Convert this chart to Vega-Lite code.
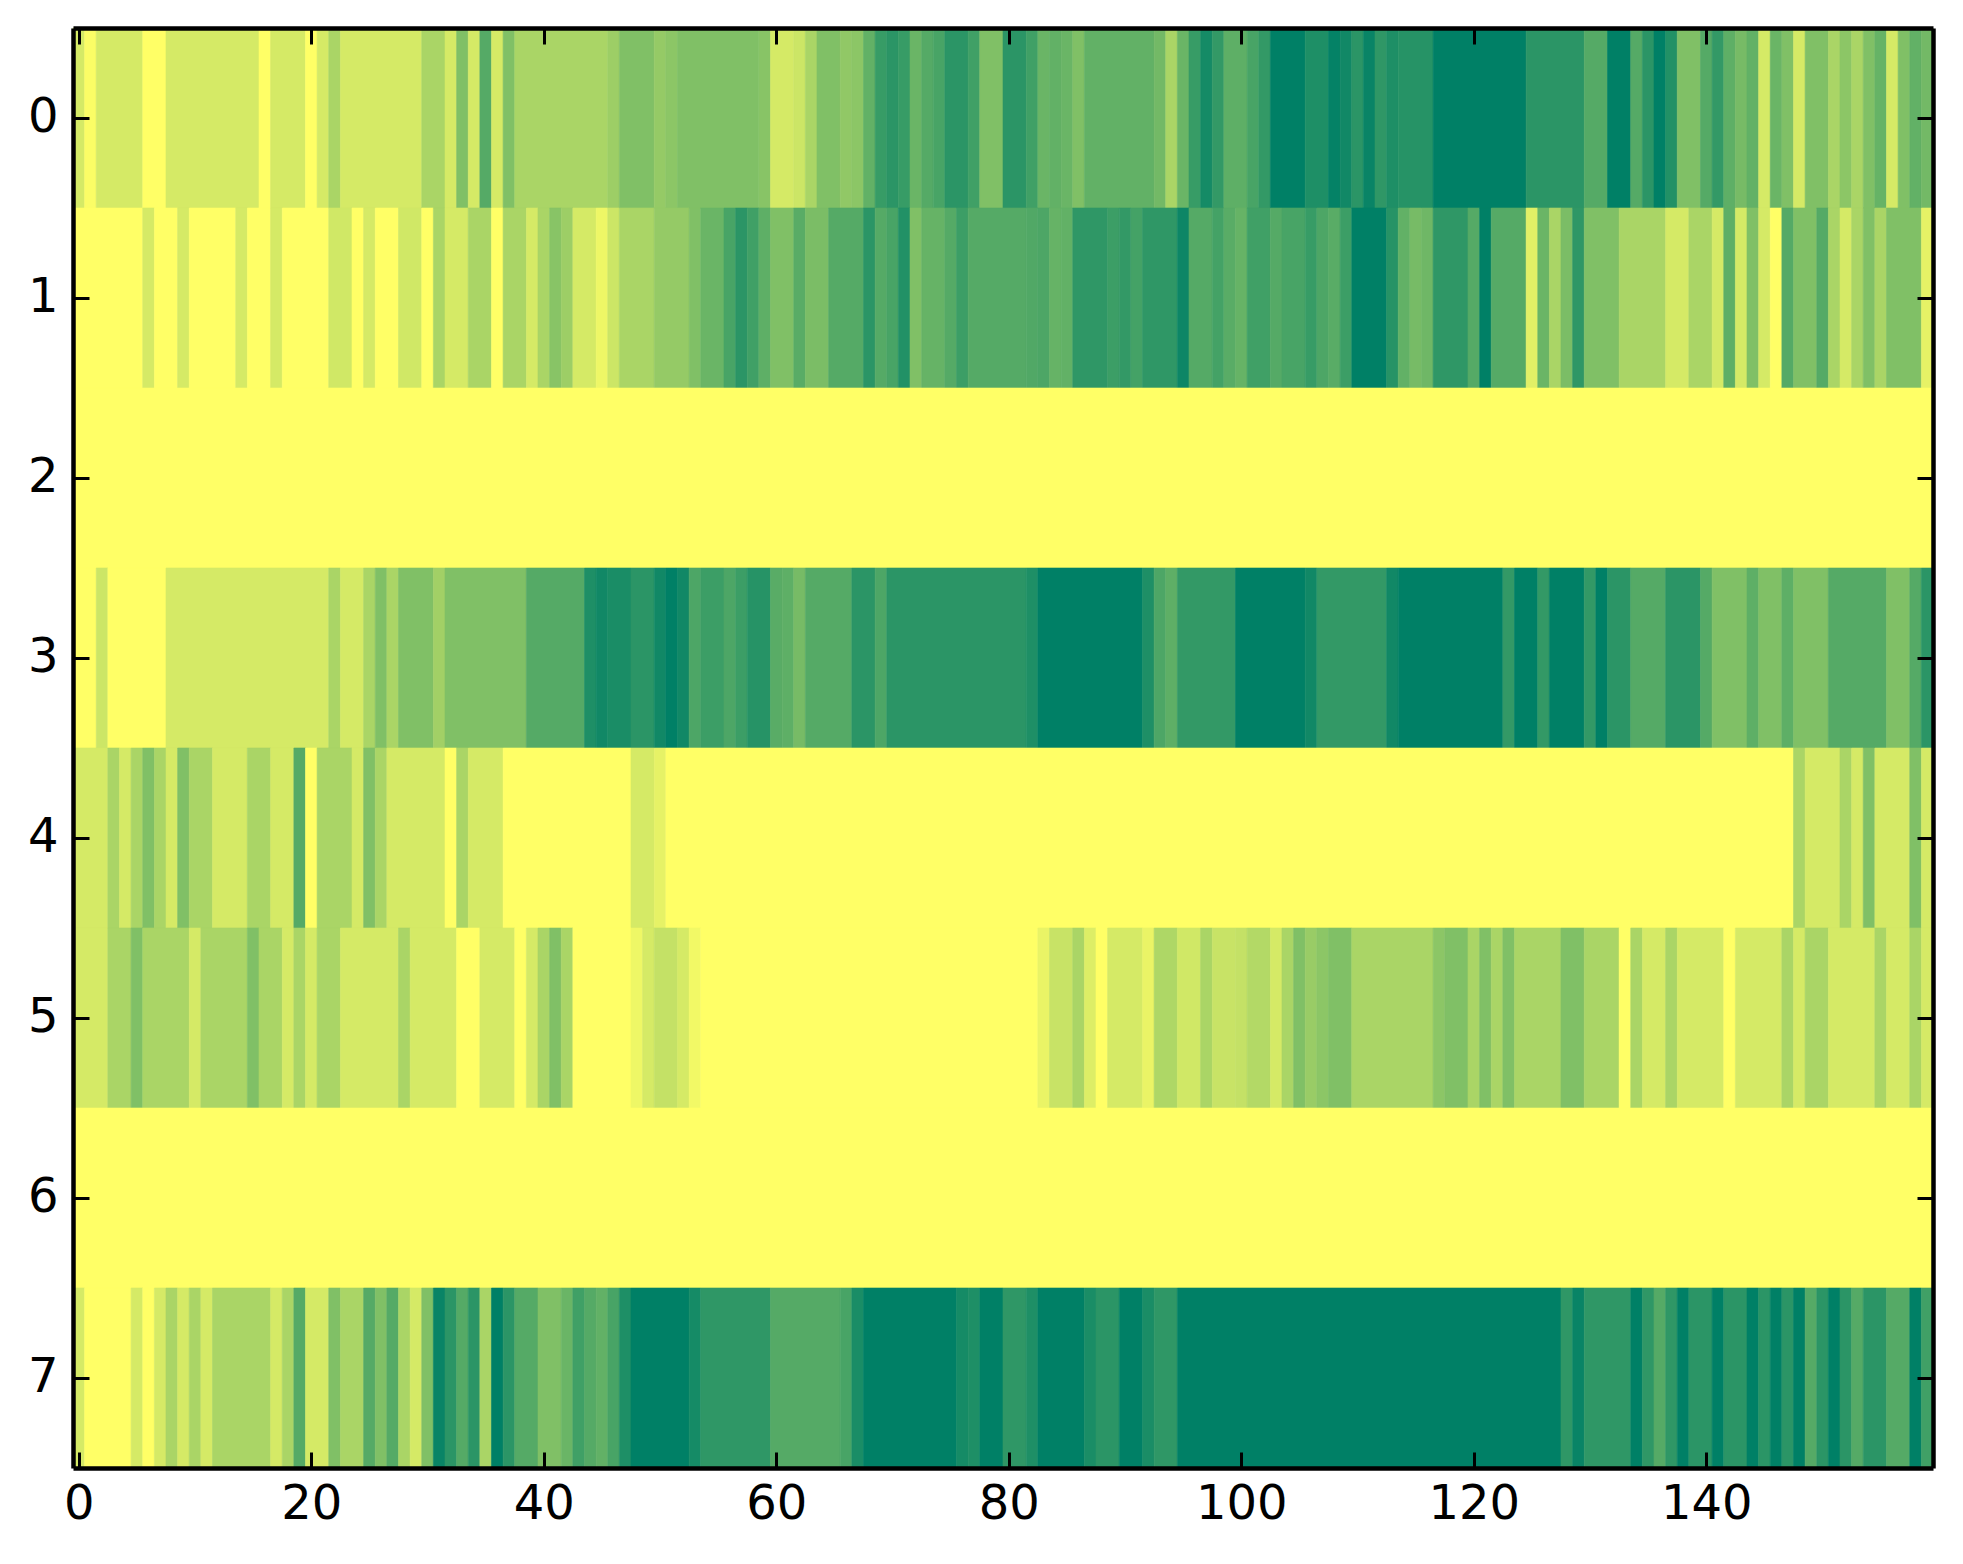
{
  "$schema": "https://vega.github.io/schema/vega-lite/v6.json",
  "autosize": {"type": "none"},
  "padding": {"left": 73, "top": 28, "right": 30, "bottom": 96},
  "width": 1860,
  "height": 1440,
  "background": "white",
  "data": {"values": [
    {"row":0,"from":-0.5,"to":0.5,"value":1},{"row":0,"from":0.5,"to":1.5,"value":0.1},{"row":0,"from":1.5,"to":5.5,"value":1},{"row":0,"from":5.5,"to":7.5,"value":0},{"row":0,"from":7.5,"to":15.5,"value":1},{"row":0,"from":15.5,"to":16.5,"value":0},{"row":0,"from":16.5,"to":19.5,"value":1},{"row":0,"from":19.5,"to":20.5,"value":0},{"row":0,"from":20.5,"to":21.5,"value":1},{"row":0,"from":21.5,"to":22.5,"value":2},{"row":0,"from":22.5,"to":29.5,"value":1},{"row":0,"from":29.5,"to":31.5,"value":2},{"row":0,"from":31.5,"to":32.5,"value":1},{"row":0,"from":32.5,"to":33.5,"value":3},{"row":0,"from":33.5,"to":34.5,"value":1},{"row":0,"from":34.5,"to":35.5,"value":4},{"row":0,"from":35.5,"to":36.5,"value":1},{"row":0,"from":36.5,"to":37.5,"value":3},{"row":0,"from":37.5,"to":45.5,"value":2},{"row":0,"from":45.5,"to":46.5,"value":2.3},{"row":0,"from":46.5,"to":49.5,"value":3},{"row":0,"from":49.5,"to":50.5,"value":2.5},{"row":0,"from":50.5,"to":51.5,"value":2.7},{"row":0,"from":51.5,"to":58.5,"value":3},{"row":0,"from":58.5,"to":59.5,"value":2.8},{"row":0,"from":59.5,"to":61.5,"value":1},{"row":0,"from":61.5,"to":62.5,"value":1.2},{"row":0,"from":62.5,"to":63.5,"value":2},{"row":0,"from":63.5,"to":65.5,"value":3},{"row":0,"from":65.5,"to":66.5,"value":2.6},{"row":0,"from":66.5,"to":67.5,"value":2.7},{"row":0,"from":67.5,"to":68.5,"value":3.7},{"row":0,"from":68.5,"to":69.5,"value":4.7},{"row":0,"from":69.5,"to":70.5,"value":5},{"row":0,"from":70.5,"to":71.5,"value":4.7},{"row":0,"from":71.5,"to":72.5,"value":3.5},{"row":0,"from":72.5,"to":73.5,"value":4},{"row":0,"from":73.5,"to":74.5,"value":4.3},{"row":0,"from":74.5,"to":76.5,"value":5},{"row":0,"from":76.5,"to":77.5,"value":4.5},{"row":0,"from":77.5,"to":79.5,"value":3},{"row":0,"from":79.5,"to":81.5,"value":5},{"row":0,"from":81.5,"to":82.5,"value":4.5},{"row":0,"from":82.5,"to":83.5,"value":3.5},{"row":0,"from":83.5,"to":84.5,"value":3.7},{"row":0,"from":84.5,"to":85.5,"value":3.5},{"row":0,"from":85.5,"to":86.5,"value":3},{"row":0,"from":86.5,"to":92.5,"value":3.7},{"row":0,"from":92.5,"to":93.5,"value":3.3},{"row":0,"from":93.5,"to":94.5,"value":2},{"row":0,"from":94.5,"to":95.5,"value":3.5},{"row":0,"from":95.5,"to":96.5,"value":4.7},{"row":0,"from":96.5,"to":97.5,"value":5.5},{"row":0,"from":97.5,"to":98.5,"value":4.8},{"row":0,"from":98.5,"to":100.5,"value":3.8},{"row":0,"from":100.5,"to":101.5,"value":4.3},{"row":0,"from":101.5,"to":102.5,"value":4.8},{"row":0,"from":102.5,"to":105.5,"value":6},{"row":0,"from":105.5,"to":107.5,"value":5.3},{"row":0,"from":107.5,"to":108.5,"value":5.9},{"row":0,"from":108.5,"to":109.5,"value":5.6},{"row":0,"from":109.5,"to":110.5,"value":5},{"row":0,"from":110.5,"to":111.5,"value":5.8},{"row":0,"from":111.5,"to":112.5,"value":4.9},{"row":0,"from":112.5,"to":113.5,"value":5.3},{"row":0,"from":113.5,"to":116.5,"value":5.1},{"row":0,"from":116.5,"to":124.5,"value":6},{"row":0,"from":124.5,"to":129.5,"value":5},{"row":0,"from":129.5,"to":131.5,"value":4},{"row":0,"from":131.5,"to":133.5,"value":6},{"row":0,"from":133.5,"to":134.5,"value":4},{"row":0,"from":134.5,"to":135.5,"value":5},{"row":0,"from":135.5,"to":136.5,"value":6},{"row":0,"from":136.5,"to":137.5,"value":5.2},{"row":0,"from":137.5,"to":139.5,"value":3},{"row":0,"from":139.5,"to":140.5,"value":4},{"row":0,"from":140.5,"to":141.5,"value":4.8},{"row":0,"from":141.5,"to":142.5,"value":3.8},{"row":0,"from":142.5,"to":143.5,"value":3.2},{"row":0,"from":143.5,"to":144.5,"value":3.7},{"row":0,"from":144.5,"to":145.5,"value":1},{"row":0,"from":145.5,"to":146.5,"value":3.5},{"row":0,"from":146.5,"to":147.5,"value":3},{"row":0,"from":147.5,"to":148.5,"value":1},{"row":0,"from":148.5,"to":150.5,"value":3},{"row":0,"from":150.5,"to":151.5,"value":2},{"row":0,"from":151.5,"to":152.5,"value":2.7},{"row":0,"from":152.5,"to":153.5,"value":2},{"row":0,"from":153.5,"to":154.5,"value":3},{"row":0,"from":154.5,"to":155.5,"value":3.6},{"row":0,"from":155.5,"to":156.5,"value":1},{"row":0,"from":156.5,"to":157.5,"value":3},{"row":0,"from":157.5,"to":158.5,"value":3.7},{"row":0,"from":158.5,"to":159.5,"value":3.3},
    {"row":1,"from":-0.5,"to":5.5,"value":0},{"row":1,"from":5.5,"to":6.5,"value":1},{"row":1,"from":6.5,"to":8.5,"value":0},{"row":1,"from":8.5,"to":9.5,"value":1},{"row":1,"from":9.5,"to":13.5,"value":0},{"row":1,"from":13.5,"to":14.5,"value":1},{"row":1,"from":14.5,"to":16.5,"value":0},{"row":1,"from":16.5,"to":17.5,"value":1},{"row":1,"from":17.5,"to":21.5,"value":0},{"row":1,"from":21.5,"to":23.5,"value":1.1},{"row":1,"from":23.5,"to":24.5,"value":0},{"row":1,"from":24.5,"to":25.5,"value":1},{"row":1,"from":25.5,"to":27.5,"value":0},{"row":1,"from":27.5,"to":29.5,"value":1.1},{"row":1,"from":29.5,"to":30.5,"value":0},{"row":1,"from":30.5,"to":31.5,"value":2},{"row":1,"from":31.5,"to":33.5,"value":1},{"row":1,"from":33.5,"to":35.5,"value":2},{"row":1,"from":35.5,"to":36.5,"value":0},{"row":1,"from":36.5,"to":38.5,"value":2},{"row":1,"from":38.5,"to":39.5,"value":1},{"row":1,"from":39.5,"to":40.5,"value":2},{"row":1,"from":40.5,"to":41.5,"value":2.8},{"row":1,"from":41.5,"to":42.5,"value":2.3},{"row":1,"from":42.5,"to":44.5,"value":1},{"row":1,"from":44.5,"to":45.5,"value":0.4},{"row":1,"from":45.5,"to":46.5,"value":1.2},{"row":1,"from":46.5,"to":49.5,"value":2},{"row":1,"from":49.5,"to":52.5,"value":2.5},{"row":1,"from":52.5,"to":53.5,"value":3},{"row":1,"from":53.5,"to":55.5,"value":3.5},{"row":1,"from":55.5,"to":56.5,"value":4.3},{"row":1,"from":56.5,"to":57.5,"value":5},{"row":1,"from":57.5,"to":58.5,"value":4.5},{"row":1,"from":58.5,"to":59.5,"value":3.8},{"row":1,"from":59.5,"to":61.5,"value":3},{"row":1,"from":61.5,"to":62.5,"value":3.9},{"row":1,"from":62.5,"to":64.5,"value":3.1},{"row":1,"from":64.5,"to":67.5,"value":4},{"row":1,"from":67.5,"to":68.5,"value":5},{"row":1,"from":68.5,"to":69.5,"value":4},{"row":1,"from":69.5,"to":70.5,"value":4.3},{"row":1,"from":70.5,"to":71.5,"value":5.2},{"row":1,"from":71.5,"to":72.5,"value":3},{"row":1,"from":72.5,"to":74.5,"value":3.6},{"row":1,"from":74.5,"to":75.5,"value":4},{"row":1,"from":75.5,"to":76.5,"value":4.6},{"row":1,"from":76.5,"to":81.5,"value":4},{"row":1,"from":81.5,"to":82.5,"value":4.1},{"row":1,"from":82.5,"to":83.5,"value":4.2},{"row":1,"from":83.5,"to":84.5,"value":3.6},{"row":1,"from":84.5,"to":85.5,"value":3.7},{"row":1,"from":85.5,"to":88.5,"value":4.9},{"row":1,"from":88.5,"to":89.5,"value":4.6},{"row":1,"from":89.5,"to":90.5,"value":4.8},{"row":1,"from":90.5,"to":91.5,"value":4.4},{"row":1,"from":91.5,"to":94.5,"value":4.9},{"row":1,"from":94.5,"to":95.5,"value":5.7},{"row":1,"from":95.5,"to":97.5,"value":4},{"row":1,"from":97.5,"to":98.5,"value":4.4},{"row":1,"from":98.5,"to":99.5,"value":3.9},{"row":1,"from":99.5,"to":100.5,"value":3.6},{"row":1,"from":100.5,"to":102.5,"value":4.5},{"row":1,"from":102.5,"to":103.5,"value":4},{"row":1,"from":103.5,"to":105.5,"value":4.3},{"row":1,"from":105.5,"to":106.5,"value":4.7},{"row":1,"from":106.5,"to":107.5,"value":4.2},{"row":1,"from":107.5,"to":108.5,"value":3.9},{"row":1,"from":108.5,"to":109.5,"value":4.6},{"row":1,"from":109.5,"to":112.5,"value":6},{"row":1,"from":112.5,"to":113.5,"value":5.1},{"row":1,"from":113.5,"to":114.5,"value":3.7},{"row":1,"from":114.5,"to":115.5,"value":3.2},{"row":1,"from":115.5,"to":116.5,"value":3.4},{"row":1,"from":116.5,"to":119.5,"value":4.9},{"row":1,"from":119.5,"to":120.5,"value":4},{"row":1,"from":120.5,"to":121.5,"value":6},{"row":1,"from":121.5,"to":124.5,"value":4},{"row":1,"from":124.5,"to":125.5,"value":0.7},{"row":1,"from":125.5,"to":126.5,"value":3.5},{"row":1,"from":126.5,"to":127.5,"value":2},{"row":1,"from":127.5,"to":128.5,"value":3.1},{"row":1,"from":128.5,"to":129.5,"value":4.9},{"row":1,"from":129.5,"to":132.5,"value":3},{"row":1,"from":132.5,"to":136.5,"value":2},{"row":1,"from":136.5,"to":138.5,"value":1},{"row":1,"from":138.5,"to":140.5,"value":2},{"row":1,"from":140.5,"to":141.5,"value":1},{"row":1,"from":141.5,"to":142.5,"value":3.8},{"row":1,"from":142.5,"to":143.5,"value":1},{"row":1,"from":143.5,"to":144.5,"value":3},{"row":1,"from":144.5,"to":145.5,"value":1},{"row":1,"from":145.5,"to":146.5,"value":0},{"row":1,"from":146.5,"to":147.5,"value":4},{"row":1,"from":147.5,"to":149.5,"value":3},{"row":1,"from":149.5,"to":150.5,"value":4},{"row":1,"from":150.5,"to":151.5,"value":2},{"row":1,"from":151.5,"to":152.5,"value":1},{"row":1,"from":152.5,"to":153.5,"value":2},{"row":1,"from":153.5,"to":154.5,"value":3},{"row":1,"from":154.5,"to":155.5,"value":2},{"row":1,"from":155.5,"to":158.5,"value":3},{"row":1,"from":158.5,"to":159.5,"value":0.6},
    {"row":2,"from":-0.5,"to":159.5,"value":0},
    {"row":3,"from":-0.5,"to":1.5,"value":0},{"row":3,"from":1.5,"to":2.5,"value":1.2},{"row":3,"from":2.5,"to":7.5,"value":0},{"row":3,"from":7.5,"to":21.5,"value":1},{"row":3,"from":21.5,"to":22.5,"value":2},{"row":3,"from":22.5,"to":24.5,"value":1},{"row":3,"from":24.5,"to":25.5,"value":2},{"row":3,"from":25.5,"to":26.5,"value":3},{"row":3,"from":26.5,"to":27.5,"value":2},{"row":3,"from":27.5,"to":30.5,"value":3},{"row":3,"from":30.5,"to":31.5,"value":2.2},{"row":3,"from":31.5,"to":38.5,"value":3},{"row":3,"from":38.5,"to":43.5,"value":4},{"row":3,"from":43.5,"to":44.5,"value":5.3},{"row":3,"from":44.5,"to":45.5,"value":5.6},{"row":3,"from":45.5,"to":47.5,"value":5.4},{"row":3,"from":47.5,"to":49.5,"value":5},{"row":3,"from":49.5,"to":50.5,"value":5.6},{"row":3,"from":50.5,"to":51.5,"value":6},{"row":3,"from":51.5,"to":52.5,"value":5.6},{"row":3,"from":52.5,"to":53.5,"value":4.2},{"row":3,"from":53.5,"to":55.5,"value":4.6},{"row":3,"from":55.5,"to":56.5,"value":4.2},{"row":3,"from":56.5,"to":57.5,"value":4.6},{"row":3,"from":57.5,"to":59.5,"value":5.1},{"row":3,"from":59.5,"to":60.5,"value":3.9},{"row":3,"from":60.5,"to":61.5,"value":3.8},{"row":3,"from":61.5,"to":62.5,"value":3.2},{"row":3,"from":62.5,"to":66.5,"value":4},{"row":3,"from":66.5,"to":68.5,"value":5},{"row":3,"from":68.5,"to":69.5,"value":4.2},{"row":3,"from":69.5,"to":81.5,"value":5},{"row":3,"from":81.5,"to":82.5,"value":5.3},{"row":3,"from":82.5,"to":91.5,"value":6},{"row":3,"from":91.5,"to":92.5,"value":5.3},{"row":3,"from":92.5,"to":93.5,"value":4.2},{"row":3,"from":93.5,"to":94.5,"value":3.8},{"row":3,"from":94.5,"to":99.5,"value":4.8},{"row":3,"from":99.5,"to":105.5,"value":6},{"row":3,"from":105.5,"to":106.5,"value":5.6},{"row":3,"from":106.5,"to":112.5,"value":4.8},{"row":3,"from":112.5,"to":113.5,"value":5.6},{"row":3,"from":113.5,"to":122.5,"value":6},{"row":3,"from":122.5,"to":123.5,"value":4.8},{"row":3,"from":123.5,"to":125.5,"value":6},{"row":3,"from":125.5,"to":126.5,"value":4.8},{"row":3,"from":126.5,"to":129.5,"value":6},{"row":3,"from":129.5,"to":130.5,"value":4.8},{"row":3,"from":130.5,"to":131.5,"value":6},{"row":3,"from":131.5,"to":133.5,"value":5},{"row":3,"from":133.5,"to":136.5,"value":4},{"row":3,"from":136.5,"to":139.5,"value":5},{"row":3,"from":139.5,"to":140.5,"value":4},{"row":3,"from":140.5,"to":143.5,"value":3},{"row":3,"from":143.5,"to":144.5,"value":3.8},{"row":3,"from":144.5,"to":146.5,"value":3},{"row":3,"from":146.5,"to":147.5,"value":3.8},{"row":3,"from":147.5,"to":150.5,"value":3},{"row":3,"from":150.5,"to":155.5,"value":4},{"row":3,"from":155.5,"to":157.5,"value":3},{"row":3,"from":157.5,"to":158.5,"value":4},{"row":3,"from":158.5,"to":159.5,"value":5},
    {"row":4,"from":-0.5,"to":2.5,"value":1},{"row":4,"from":2.5,"to":3.5,"value":2},{"row":4,"from":3.5,"to":4.5,"value":1},{"row":4,"from":4.5,"to":5.5,"value":2},{"row":4,"from":5.5,"to":6.5,"value":3},{"row":4,"from":6.5,"to":7.5,"value":2},{"row":4,"from":7.5,"to":8.5,"value":1},{"row":4,"from":8.5,"to":9.5,"value":3},{"row":4,"from":9.5,"to":11.5,"value":2},{"row":4,"from":11.5,"to":14.5,"value":1},{"row":4,"from":14.5,"to":16.5,"value":2},{"row":4,"from":16.5,"to":18.5,"value":1},{"row":4,"from":18.5,"to":19.5,"value":4},{"row":4,"from":19.5,"to":20.5,"value":0},{"row":4,"from":20.5,"to":23.5,"value":2},{"row":4,"from":23.5,"to":24.5,"value":1},{"row":4,"from":24.5,"to":25.5,"value":3},{"row":4,"from":25.5,"to":26.5,"value":2},{"row":4,"from":26.5,"to":31.5,"value":1},{"row":4,"from":31.5,"to":32.5,"value":0},{"row":4,"from":32.5,"to":33.5,"value":2},{"row":4,"from":33.5,"to":36.5,"value":1},{"row":4,"from":36.5,"to":47.5,"value":0},{"row":4,"from":47.5,"to":49.5,"value":1},{"row":4,"from":49.5,"to":50.5,"value":0.6},{"row":4,"from":50.5,"to":147.5,"value":0},{"row":4,"from":147.5,"to":148.5,"value":2},{"row":4,"from":148.5,"to":151.5,"value":1},{"row":4,"from":151.5,"to":152.5,"value":2},{"row":4,"from":152.5,"to":153.5,"value":1},{"row":4,"from":153.5,"to":154.5,"value":3},{"row":4,"from":154.5,"to":157.5,"value":1},{"row":4,"from":157.5,"to":158.5,"value":3},{"row":4,"from":158.5,"to":159.5,"value":1},
    {"row":5,"from":-0.5,"to":2.5,"value":1},{"row":5,"from":2.5,"to":4.5,"value":2},{"row":5,"from":4.5,"to":5.5,"value":3},{"row":5,"from":5.5,"to":9.5,"value":2},{"row":5,"from":9.5,"to":10.5,"value":1},{"row":5,"from":10.5,"to":14.5,"value":2},{"row":5,"from":14.5,"to":15.5,"value":3},{"row":5,"from":15.5,"to":17.5,"value":2},{"row":5,"from":17.5,"to":18.5,"value":1},{"row":5,"from":18.5,"to":19.5,"value":2},{"row":5,"from":19.5,"to":20.5,"value":1},{"row":5,"from":20.5,"to":22.5,"value":2},{"row":5,"from":22.5,"to":27.5,"value":1},{"row":5,"from":27.5,"to":28.5,"value":2},{"row":5,"from":28.5,"to":32.5,"value":1},{"row":5,"from":32.5,"to":34.5,"value":0},{"row":5,"from":34.5,"to":37.5,"value":1},{"row":5,"from":37.5,"to":38.5,"value":0},{"row":5,"from":38.5,"to":39.5,"value":1},{"row":5,"from":39.5,"to":40.5,"value":2},{"row":5,"from":40.5,"to":41.5,"value":3},{"row":5,"from":41.5,"to":42.5,"value":2},{"row":5,"from":42.5,"to":47.5,"value":0},{"row":5,"from":47.5,"to":48.5,"value":0.4},{"row":5,"from":48.5,"to":49.5,"value":1},{"row":5,"from":49.5,"to":51.5,"value":1.4},{"row":5,"from":51.5,"to":52.5,"value":1},{"row":5,"from":52.5,"to":53.5,"value":0.3},{"row":5,"from":53.5,"to":82.5,"value":0},{"row":5,"from":82.5,"to":83.5,"value":0.5},{"row":5,"from":83.5,"to":85.5,"value":1.3},{"row":5,"from":85.5,"to":86.5,"value":2},{"row":5,"from":86.5,"to":87.5,"value":0.8},{"row":5,"from":87.5,"to":88.5,"value":0},{"row":5,"from":88.5,"to":91.5,"value":1},{"row":5,"from":91.5,"to":92.5,"value":0.5},{"row":5,"from":92.5,"to":94.5,"value":1.9},{"row":5,"from":94.5,"to":96.5,"value":1.1},{"row":5,"from":96.5,"to":97.5,"value":2},{"row":5,"from":97.5,"to":99.5,"value":1.3},{"row":5,"from":99.5,"to":100.5,"value":1.4},{"row":5,"from":100.5,"to":102.5,"value":1.8},{"row":5,"from":102.5,"to":103.5,"value":1},{"row":5,"from":103.5,"to":104.5,"value":2},{"row":5,"from":104.5,"to":105.5,"value":3},{"row":5,"from":105.5,"to":106.5,"value":2.4},{"row":5,"from":106.5,"to":107.5,"value":2.7},{"row":5,"from":107.5,"to":109.5,"value":3},{"row":5,"from":109.5,"to":116.5,"value":2},{"row":5,"from":116.5,"to":117.5,"value":2.7},{"row":5,"from":117.5,"to":119.5,"value":3},{"row":5,"from":119.5,"to":120.5,"value":2},{"row":5,"from":120.5,"to":121.5,"value":3},{"row":5,"from":121.5,"to":122.5,"value":2},{"row":5,"from":122.5,"to":123.5,"value":3},{"row":5,"from":123.5,"to":127.5,"value":2},{"row":5,"from":127.5,"to":129.5,"value":3},{"row":5,"from":129.5,"to":132.5,"value":2},{"row":5,"from":132.5,"to":133.5,"value":0},{"row":5,"from":133.5,"to":134.5,"value":2},{"row":5,"from":134.5,"to":136.5,"value":1},{"row":5,"from":136.5,"to":137.5,"value":2},{"row":5,"from":137.5,"to":141.5,"value":1},{"row":5,"from":141.5,"to":142.5,"value":0},{"row":5,"from":142.5,"to":146.5,"value":1},{"row":5,"from":146.5,"to":147.5,"value":2},{"row":5,"from":147.5,"to":148.5,"value":1},{"row":5,"from":148.5,"to":150.5,"value":2},{"row":5,"from":150.5,"to":154.5,"value":1},{"row":5,"from":154.5,"to":155.5,"value":2},{"row":5,"from":155.5,"to":157.5,"value":1},{"row":5,"from":157.5,"to":158.5,"value":2},{"row":5,"from":158.5,"to":159.5,"value":1},
    {"row":6,"from":-0.5,"to":159.5,"value":0},
    {"row":7,"from":-0.5,"to":0.5,"value":1},{"row":7,"from":0.5,"to":4.5,"value":0},{"row":7,"from":4.5,"to":5.5,"value":1},{"row":7,"from":5.5,"to":6.5,"value":0},{"row":7,"from":6.5,"to":7.5,"value":1},{"row":7,"from":7.5,"to":8.5,"value":2},{"row":7,"from":8.5,"to":9.5,"value":1},{"row":7,"from":9.5,"to":10.5,"value":2},{"row":7,"from":10.5,"to":11.5,"value":1},{"row":7,"from":11.5,"to":16.5,"value":2},{"row":7,"from":16.5,"to":17.5,"value":1},{"row":7,"from":17.5,"to":18.5,"value":2},{"row":7,"from":18.5,"to":19.5,"value":4},{"row":7,"from":19.5,"to":21.5,"value":1},{"row":7,"from":21.5,"to":22.5,"value":3},{"row":7,"from":22.5,"to":24.5,"value":2},{"row":7,"from":24.5,"to":25.5,"value":4},{"row":7,"from":25.5,"to":26.5,"value":3},{"row":7,"from":26.5,"to":27.5,"value":4},{"row":7,"from":27.5,"to":28.5,"value":2},{"row":7,"from":28.5,"to":29.5,"value":1},{"row":7,"from":29.5,"to":30.5,"value":3},{"row":7,"from":30.5,"to":31.5,"value":5.8},{"row":7,"from":31.5,"to":32.5,"value":5},{"row":7,"from":32.5,"to":33.5,"value":4},{"row":7,"from":33.5,"to":34.5,"value":5},{"row":7,"from":34.5,"to":35.5,"value":2},{"row":7,"from":35.5,"to":36.5,"value":6},{"row":7,"from":36.5,"to":37.5,"value":5},{"row":7,"from":37.5,"to":39.5,"value":4},{"row":7,"from":39.5,"to":41.5,"value":3},{"row":7,"from":41.5,"to":42.5,"value":3.5},{"row":7,"from":42.5,"to":43.5,"value":4.5},{"row":7,"from":43.5,"to":44.5,"value":4},{"row":7,"from":44.5,"to":45.5,"value":3.7},{"row":7,"from":45.5,"to":46.5,"value":4.3},{"row":7,"from":46.5,"to":47.5,"value":5.3},{"row":7,"from":47.5,"to":52.5,"value":6},{"row":7,"from":52.5,"to":53.5,"value":5.5},{"row":7,"from":53.5,"to":59.5,"value":4.9},{"row":7,"from":59.5,"to":65.5,"value":4},{"row":7,"from":65.5,"to":66.5,"value":4.3},{"row":7,"from":66.5,"to":67.5,"value":5.4},{"row":7,"from":67.5,"to":75.5,"value":6},{"row":7,"from":75.5,"to":76.5,"value":5.5},{"row":7,"from":76.5,"to":77.5,"value":5.3},{"row":7,"from":77.5,"to":79.5,"value":6},{"row":7,"from":79.5,"to":81.5,"value":4.9},{"row":7,"from":81.5,"to":82.5,"value":5.3},{"row":7,"from":82.5,"to":86.5,"value":6},{"row":7,"from":86.5,"to":87.5,"value":5.4},{"row":7,"from":87.5,"to":89.5,"value":5},{"row":7,"from":89.5,"to":91.5,"value":6},{"row":7,"from":91.5,"to":92.5,"value":5.4},{"row":7,"from":92.5,"to":94.5,"value":4.9},{"row":7,"from":94.5,"to":127.5,"value":6},{"row":7,"from":127.5,"to":128.5,"value":4.9},{"row":7,"from":128.5,"to":129.5,"value":5.8},{"row":7,"from":129.5,"to":133.5,"value":4.9},{"row":7,"from":133.5,"to":134.5,"value":6},{"row":7,"from":134.5,"to":135.5,"value":4.9},{"row":7,"from":135.5,"to":136.5,"value":4},{"row":7,"from":136.5,"to":137.5,"value":4.9},{"row":7,"from":137.5,"to":138.5,"value":6},{"row":7,"from":138.5,"to":140.5,"value":5},{"row":7,"from":140.5,"to":141.5,"value":6},{"row":7,"from":141.5,"to":143.5,"value":5},{"row":7,"from":143.5,"to":144.5,"value":6},{"row":7,"from":144.5,"to":145.5,"value":5},{"row":7,"from":145.5,"to":146.5,"value":6},{"row":7,"from":146.5,"to":147.5,"value":5},{"row":7,"from":147.5,"to":148.5,"value":6},{"row":7,"from":148.5,"to":149.5,"value":4},{"row":7,"from":149.5,"to":150.5,"value":5},{"row":7,"from":150.5,"to":151.5,"value":6},{"row":7,"from":151.5,"to":152.5,"value":5},{"row":7,"from":152.5,"to":153.5,"value":4},{"row":7,"from":153.5,"to":155.5,"value":5},{"row":7,"from":155.5,"to":157.5,"value":4},{"row":7,"from":157.5,"to":158.5,"value":6},{"row":7,"from":158.5,"to":159.5,"value":4.5}
  ]},
  "layer": [
    {
      "mark": {"type": "rect", "strokeWidth": 0.6},
      "encoding": {
        "x": {"field": "from", "type": "quantitative", "title": null,
          "scale": {"domain": [-0.5, 159.5], "nice": false, "zero": false},
          "axis": {"orient": "bottom", "values": [0, 20, 40, 60, 80, 100, 120, 140], "grid": false, "zindex": 1, "labelPadding": 28}},
        "x2": {"field": "to"},
        "y": {"field": "row", "type": "ordinal", "title": null,
          "scale": {"domain": [0, 1, 2, 3, 4, 5, 6, 7], "paddingInner": 0, "paddingOuter": 0},
          "axis": {"orient": "left", "labelAngle": 0, "grid": false, "zindex": 1, "labelPadding": 31}},
        "color": {"field": "value", "type": "quantitative", "legend": null,
          "scale": {"domain": [0, 6], "range": ["#ffff66", "#008066"], "interpolate": "rgb"}},
        "stroke": {"field": "value", "type": "quantitative", "legend": null,
          "scale": {"domain": [0, 6], "range": ["#ffff66", "#008066"], "interpolate": "rgb"}}
      }
    },
    {
      "mark": {"type": "rect", "opacity": 0},
      "encoding": {
        "x": {"field": "from", "type": "quantitative", "title": null,
          "scale": {"domain": [-0.5, 159.5], "nice": false, "zero": false},
          "axis": {"orient": "top", "values": [0, 20, 40, 60, 80, 100, 120, 140], "labels": false, "grid": false, "zindex": 1}},
        "x2": {"field": "to"},
        "y": {"field": "row", "type": "ordinal", "title": null,
          "scale": {"domain": [0, 1, 2, 3, 4, 5, 6, 7], "paddingInner": 0, "paddingOuter": 0},
          "axis": {"orient": "right", "labels": false, "grid": false, "zindex": 1}}
      }
    }
  ],
  "resolve": {"axis": {"x": "independent", "y": "independent"}},
  "config": {
    "font": "DejaVu Sans",
    "view": {"stroke": null},
    "axis": {
      "domainColor": "black", "domainWidth": 4.5,
      "tickColor": "black", "tickWidth": 3, "tickSize": -16,
      "labelColor": "black", "labelFont": "DejaVu Sans", "labelFontSize": 48
    }
  }
}
